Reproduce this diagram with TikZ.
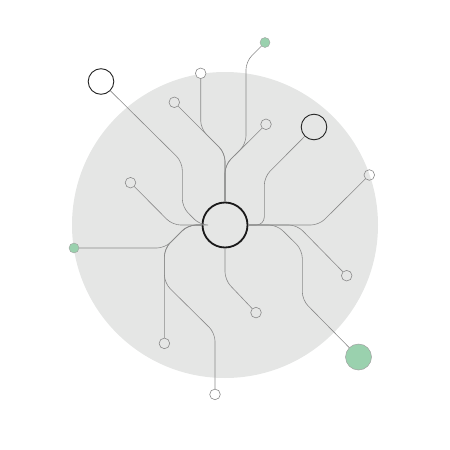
\documentclass[tikz,border=0pt]{standalone}
\definecolor{disc}{HTML}{E5E6E5}
\definecolor{wire}{HTML}{8A8A8A}
\definecolor{mint}{HTML}{9AD1AE}
\begin{document}
\begin{tikzpicture}[x=1pt,y=-1pt,
  wirepath/.style={draw=wire,line width=0.6pt,rounded corners=8pt},
  smallnode/.style={circle,draw=wire,line width=0.6pt,minimum size=10.6pt,inner sep=0pt},
  greensmall/.style={circle,draw=wire!80,fill=mint,line width=0.4pt,minimum size=10pt,inner sep=0pt},
  greenbig/.style={circle,draw=wire!80,fill=mint,line width=0.5pt,minimum size=26pt,inner sep=0pt},
  bignode/.style={circle,draw=black!85,line width=0.9pt,minimum size=25.6pt,inner sep=0pt},
  hubnode/.style={circle,draw=black!90,line width=1.8pt,minimum size=45pt,inner sep=0pt}]
\useasboundingbox (0,0) rectangle (450,450);
\fill[disc] (225,225) circle[radius=153];
% nodes
\node[hubnode] (hub) at (225,225) {};
\node[bignode,fill=white] (tl) at (101,81.5) {};
\node[bignode] (rb) at (314,127) {};
\node[greenbig] (gb) at (358.5,357) {};
\node[greensmall] (gt) at (265,42.5) {};
\node[greensmall] (gl) at (74,248) {};
\node[smallnode,fill=white] (s200) at (200.7,73.3) {};
\node[smallnode] (s174) at (174.3,102.3) {};
\node[smallnode] (s266) at (266,124.3) {};
\node[smallnode] (s130) at (130.5,182.7) {};
\node[smallnode] (s369) at (369.3,175) {};
\node[smallnode] (s347) at (346.7,275.7) {};
\node[smallnode] (s256) at (256,312.6) {};
\node[smallnode] (s164) at (164.4,343.4) {};
\node[smallnode,fill=white] (s215) at (215,394.4) {};
% wires
\draw[wirepath] (tl) -- (182.3,162) -- (182.3,207) -- (200,225) -- (hub);
\draw[wirepath] (s130) -- (172.5,225) -- (hub);
\draw[wirepath] (gl) -- (165,248) -- (188,225) -- (hub);
\draw[wirepath] (s164) -- (164.4,248.5) -- (188,225) -- (hub);
\draw[wirepath] (s215) -- (215,333) -- (164.4,283) -- (164.4,248.5) -- (188,225) -- (hub);
\draw[wirepath] (hub) -- (225,280) -- (s256);
\draw[wirepath] (s174) -- (225,153) -- (hub);
\draw[wirepath] (s200) -- (200.7,128.7) -- (225,153) -- (hub);
\draw[wirepath] (s266) -- (225,165) -- (hub);
\draw[wirepath] (gt) -- (246,61.5) -- (246,144) -- (225,165) -- (hub);
\draw[wirepath] (rb) -- (264.3,177) -- (264.3,225) -- (hub);
\draw[wirepath] (s369) -- (319,225) -- (hub);
\draw[wirepath] (gb) -- (302.3,300) -- (302.3,250) -- (277,225) -- (hub);
\draw[wirepath] (s347) -- (297,225) -- (hub);
\end{tikzpicture}
\end{document}
